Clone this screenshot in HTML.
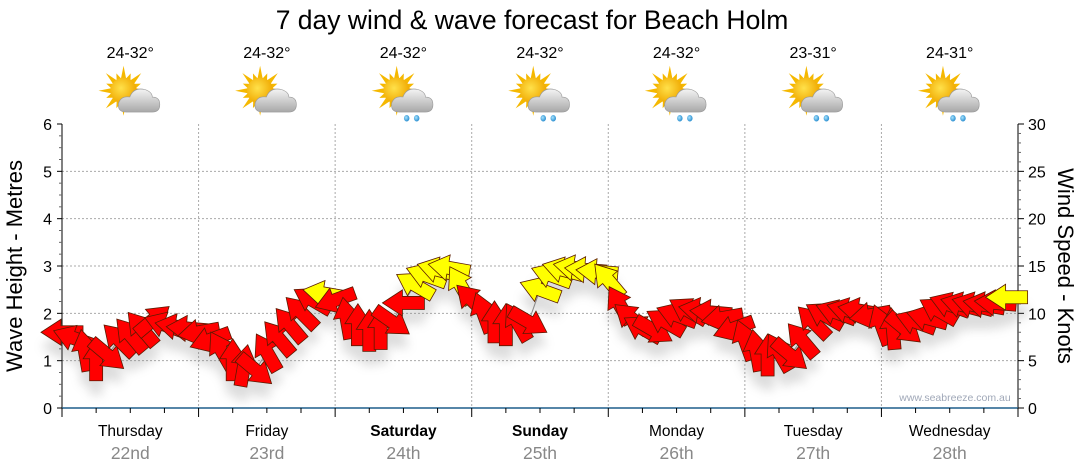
<!DOCTYPE html>
<html><head><meta charset="utf-8"><style>
body{margin:0;background:#fff;width:1080px;height:475px;overflow:hidden;font-family:"Liberation Sans",sans-serif}
svg{display:block}
</style></head><body>
<svg id="chart" width="1080" height="475" viewBox="0 0 1080 475" xmlns="http://www.w3.org/2000/svg">
<defs>
<filter id="shadow" x="-50%" y="-50%" width="200%" height="250%"><feGaussianBlur stdDeviation="5"/></filter>
<radialGradient id="sunG" cx="0.4" cy="0.4" r="0.6"><stop offset="0" stop-color="#ffe14a"/><stop offset="1" stop-color="#f0a800"/></radialGradient>
<linearGradient id="cloudG" x1="0" y1="0" x2="0" y2="1"><stop offset="0" stop-color="#f4f4f4"/><stop offset="1" stop-color="#a8a8a8"/></linearGradient>
<radialGradient id="dropG" cx="0.4" cy="0.4" r="0.6"><stop offset="0" stop-color="#a8e4ff"/><stop offset="1" stop-color="#2b8fd0"/></radialGradient>
</defs>
<text x="532" y="29" text-anchor="middle" font-size="26.5" fill="#000">7 day wind &amp; wave forecast for Beach Holm</text>
<g id="grid"></g>
<g id="axes"></g>
<g id="icons"></g>
<g id="shadows" filter="url(#shadow)" opacity="0.25"></g>
<g id="series"></g>
<text x="955" y="401" text-anchor="middle" font-size="10.5" fill="#a0a8b8">www.seabreeze.com.au</text>
<text transform="translate(22,266) rotate(-90)" text-anchor="middle" font-size="22" fill="#000">Wave Height - Metres</text>
<text transform="translate(1058,266) rotate(90)" text-anchor="middle" font-size="22" fill="#000">Wind Speed - Knots</text>
</svg>
<script>
const dayNames=["Thursday","Friday","Saturday","Sunday","Monday","Tuesday","Wednesday"];
const dayDates=["22nd","23rd","24th","25th","26th","27th","28th"];
const dayBold=[false,false,true,true,false,false,false];
const temps=["24-32°","24-32°","24-32°","24-32°","24-32°","23-31°","24-31°"];
const rainIcon=[false,false,true,true,true,true,true];
const waveTicks=[0,1,2,3,4,5,6];
const windTicks=[0,5,10,15,20,25,30];
// wind every 2 hours from Thursday 00:00
const windKnots=[8.0,7.4,6.1,5.1,5.6,7.2,7.7,8.4,9.3,8.8,8.6,8.4,
8.0,7.2,6.1,5.1,4.5,4.0,5.9,7.4,8.8,10.1,11.4,12.1,
11.4,9.5,8.8,8.2,8.4,9.1,11.1,13.0,14.0,14.6,14.8,13.0,
11.4,10.1,9.1,8.8,9.1,9.1,12.5,14.0,14.6,14.8,14.6,14.4,
13.5,10.9,9.5,8.4,8.2,9.1,9.8,10.3,10.3,10.1,9.5,8.4,
7.2,6.1,5.6,5.9,5.6,7.2,9.1,9.8,10.1,10.3,10.3,9.8,
8.8,8.4,8.4,9.1,9.5,10.3,10.9,10.9,10.9,10.9,11.1,11.7];
const windDir=[180,160,100,90,-40,135,130,130,40,160,170,175,
190,200,120,90,80,-40,120,130,130,135,150,170,
200,100,90,90,90,-35,180,150,160,165,170,120,
135,110,90,90,120,-30,160,160,165,170,175,175,
130,120,140,150,-30,150,160,150,170,175,190,200,
110,100,90,120,-40,130,135,150,160,165,170,190,
110,95,-40,160,165,150,160,165,165,170,175,180];
const strongThreshold=11.5;

const X0=62,X1=1018,Y0=408,Y1=124;
const dayW=(X1-X0)/7;
const xHour=h=>X0+h*dayW/24;
const yWave=m=>Y0-(Y0-Y1)*m/6;
const yKnot=k=>Y0-(Y0-Y1)*k/30;
const NS="http://www.w3.org/2000/svg";
function mk(tag,attrs,parent,txt){const e=document.createElementNS(NS,tag);for(const k in attrs)e.setAttribute(k,attrs[k]);if(txt!==undefined)e.textContent=txt;parent.appendChild(e);return e;}
const grid=document.getElementById('grid'),axes=document.getElementById('axes'),icons=document.getElementById('icons'),series=document.getElementById('series'),shadows=document.getElementById('shadows');

waveTicks.forEach(m=>{if(m>0&&m<6){const l=mk('line',{x1:X0,x2:X1,y1:yWave(m),y2:yWave(m),stroke:'#aaa','stroke-dasharray':'2,2','stroke-width':1},grid);

}});
dayNames.forEach((d,i)=>{
  const xb=X0+dayW*(i+1);
  if(i<6){const l=mk('line',{x1:xb,x2:xb,y1:Y1,y2:Y0,stroke:'#aaa','stroke-dasharray':'2,2'},grid);
  
  }
  const cx=X0+dayW*(i+0.5);
  const t=mk('text',{x:cx,y:436,'text-anchor':'middle','font-size':15.5,'font-weight':dayBold[i]?'bold':'normal',fill:'#000'},axes,d);
  
  
  const t2=mk('text',{x:cx,y:459,'text-anchor':'middle','font-size':17.5,fill:'#888'},axes,dayDates[i]);
  
  
  const t3=mk('text',{x:cx,y:58,'text-anchor':'middle','font-size':16,fill:'#000'},icons,temps[i]);
  
  
  const g=mk('g',{transform:`translate(${cx+2},97) scale(1.25)`},icons);
  
  
  const sx=-7,sy=-5;
  for(let r=0;r<16;r++){const a=r*Math.PI/8;const len=(r%2?15:20);const w=2.2;
    const ax=Math.cos(a),ay=Math.sin(a);
    mk('polygon',{points:`${sx+ax*len},${sy+ay*len} ${sx-ay*w+ax*9},${sy+ax*w+ay*9} ${sx+ay*w+ax*9},${sy-ax*w+ay*9}`,fill:'#f5b800'},g);}
  mk('circle',{cx:sx,cy:sy,r:10.5,fill:'url(#sunG)'},g);
  mk('path',{d:'M-5,12 Q-12,12 -11,5 Q-9,-1 -2,0 Q1,-8 10,-6 Q16,-4 16,0 Q22,0 22,6 Q22,12 16,12 Z',fill:'url(#cloudG)',stroke:'#999','stroke-width':0.5},g);
  if(rainIcon[i]){mk('ellipse',{cx:1,cy:17,rx:2.2,ry:2.6,fill:'url(#dropG)'},g);mk('ellipse',{cx:9,cy:17,rx:2.2,ry:2.6,fill:'url(#dropG)'},g);}
});
let a=mk('line',{x1:X0,x2:X0,y1:Y1,y2:Y0,stroke:'#000'},axes);


a=mk('line',{x1:X1,x2:X1,y1:Y1,y2:Y0,stroke:'#000'},axes);


a=mk('line',{x1:X0,x2:X1,y1:Y0,y2:Y0,stroke:'#1f5f8b','stroke-width':1.5},axes);


for(let q=0;q<=24;q++){const m=q*0.25;const y=yWave(m);const major=q%4===0;mk('line',{x1:X0-(major?5:3),x2:X0,y1:y,y2:y,stroke:major?'#000':'#666'},axes);}
waveTicks.forEach(m=>{const t=mk('text',{x:X0-10,y:yWave(m)+6,'text-anchor':'end','font-size':16,fill:'#000'},axes,m);

});
for(let k=0;k<=30;k++){const y=yKnot(k);const major=k%5===0;mk('line',{x1:X1,x2:X1+(major?6:3),y1:y,y2:y,stroke:major?'#000':'#666'},axes);}
windTicks.forEach(k=>{const t=mk('text',{x:X1+10,y:yKnot(k)+6,'font-size':16,fill:'#000'},axes,k);

});
for(let h=0;h<=168;h+=6){const x=xHour(h);mk('line',{x1:x,x2:x,y1:Y0,y2:Y0+(h%24===0?9:5),stroke:'#000'},axes);}

const pts=windKnots.map((k,i)=>`${xHour(i*2)},${yKnot(k)}`).join(' ');
const pl=mk('polyline',{points:pts,fill:'none',stroke:'#888','stroke-width':1},series);


const arrowPath='M21,0 L1,-13 L1,-6.5 L-21,-6.5 L-21,6.5 L1,6.5 L1,13 Z';
windKnots.forEach((k,i)=>{
  const x=xHour(i*2),y=yKnot(k);
  mk('path',{d:arrowPath,transform:`translate(${x},${y+14}) rotate(${-windDir[i]})`,fill:'#777'},shadows);
  const p=mk('path',{d:arrowPath,transform:`translate(${x},${y}) rotate(${-windDir[i]})`,fill:k>=strongThreshold?'#ffff00':'#ff0000',stroke:'#5a1a00','stroke-width':0.8,'stroke-linejoin':'miter'},series);
  
  
});
</script>
</body></html>
